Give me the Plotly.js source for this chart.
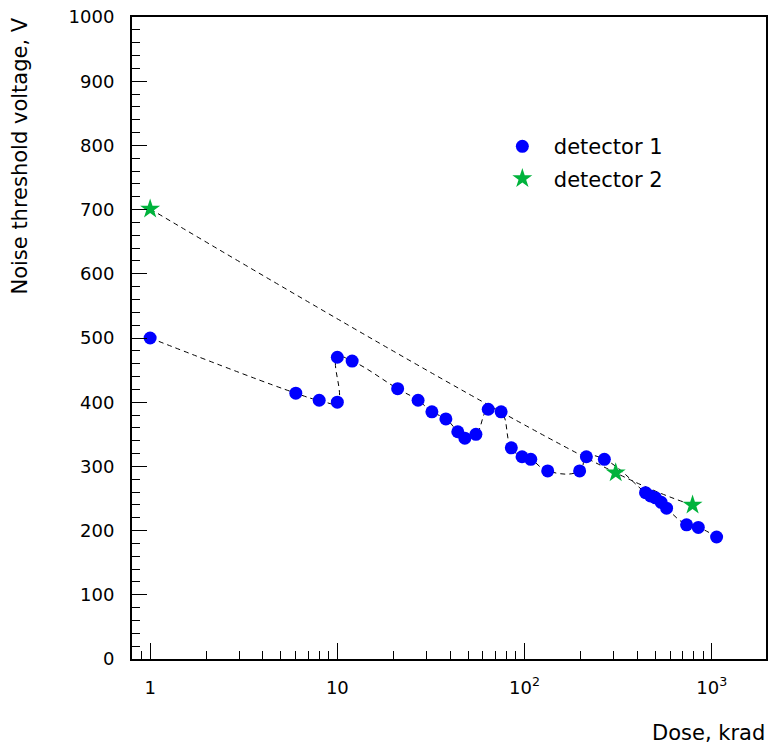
<!DOCTYPE html>
<html>
<head>
<meta charset="utf-8">
<script src="https://cdn.plot.ly/plotly-3.0.1.min.js"></script>
<style>html,body{margin:0;padding:0;background:#fff;}#chart{width:768px;height:744px;}</style>
</head>
<body>
<div id="chart"></div>
<script>
// Detector 1 data (dose in krad, noise threshold voltage in V)
var det1Dose = [1, 6, 8, 10, 10, 12, 21, 27, 32, 38, 44, 48, 55, 64, 75, 85, 97, 108, 133, 197, 214, 267, 443, 471, 501, 537, 574, 734, 848, 1062];
var det1Volt = [500, 414, 403, 400, 470, 464, 421, 403, 385, 374, 354, 344, 350, 389, 385, 329, 315, 311, 293, 293, 315, 311, 259, 254, 251, 244, 235, 209, 205, 190];
// Detector 2 data
var det2Dose = [1, 307, 790];
var det2Volt = [701, 290, 240];

var xTickVals = [1, 10, 100, 1000];
var xTickText = ['1', '10', '10<sup>2</sup>', '10<sup>3</sup>'];
var xMinorVals = [0.9];
[1, 10, 100, 1000].forEach(function (d) { for (var k = 2; k <= 9; k++) { if (k * d < 1950) xMinorVals.push(k * d); } });

var FONT = 'DejaVu Sans, Arial, sans-serif';
var dashStyle = {color: '#000', width: 1, dash: '5px,4px', shape: 'spline', smoothing: 1.3};

var traces = [
  {x: det1Dose, y: det1Volt, mode: 'lines', line: dashStyle, showlegend: false, hoverinfo: 'skip'},
  {x: det2Dose, y: det2Volt, mode: 'lines', line: dashStyle, showlegend: false, hoverinfo: 'skip'},
  {x: det1Dose, y: det1Volt, mode: 'markers', name: 'detector 1', legendgroup: 'a',
   marker: {symbol: 'circle', size: 13, color: '#0000ff'}},
  {x: det2Dose, y: det2Volt, mode: 'markers', name: 'detector 2', legendgroup: 'b',
   marker: {symbol: 'star', size: 15, color: '#00b33c'}}
];

var layout = {
  width: 768, height: 744,
  margin: {l: 132, r: 2, t: 17, b: 85},
  paper_bgcolor: '#fff', plot_bgcolor: '#fff',
  font: {family: FONT, size: 18, color: '#000'},
  showlegend: true,
  legend: {x: 0.566, y: 0.83, xanchor: 'left', yanchor: 'top', bgcolor: 'rgba(0,0,0,0)',
           itemwidth: 53,
           font: {family: FONT, size: 21, color: '#000'}, traceorder: 'grouped', tracegroupgap: 2},
  xaxis: {
    type: 'log', range: [Math.log10(0.8), Math.log10(1950)],
    showgrid: false, zeroline: false,
    showline: true, linecolor: '#000', linewidth: 2, mirror: true,
    ticks: 'inside', ticklen: 16, tickwidth: 1, tickcolor: '#000',
    tickmode: 'array', tickvals: xTickVals, ticktext: xTickText,
    tickfont: {family: FONT, size: 18},
    ticklabelstandoff: 11,
    minor: {tickmode: 'array', tickvals: xMinorVals, ticks: 'inside', ticklen: 8, tickwidth: 1, tickcolor: '#000', showgrid: false}
  },
  yaxis: {
    range: [0, 1000],
    showgrid: false, zeroline: false,
    showline: true, linecolor: '#000', linewidth: 2, mirror: true,
    ticks: 'inside', ticklen: 15, tickwidth: 1, tickcolor: '#000',
    dtick: 100, tick0: 0,
    tickfont: {family: FONT, size: 18},
    ticklabelstandoff: 12,
    minor: {dtick: 20, tick0: 0, ticks: 'inside', ticklen: 8, tickwidth: 1, tickcolor: '#000', showgrid: false}
  },
  annotations: [
    {text: 'Noise threshold voltage, V', xref: 'paper', yref: 'paper', x: -0.1767, y: 1.003,
     xanchor: 'center', yanchor: 'top', textangle: -90, showarrow: false, font: {family: FONT, size: 21}},
    {text: 'Dose, krad', xref: 'paper', yref: 'paper', x: 1.002, y: -0.115,
     xanchor: 'right', yanchor: 'middle', showarrow: false, font: {family: FONT, size: 21}}
  ]
};

Plotly.newPlot('chart', traces, layout, {displayModeBar: false, staticPlot: true});
</script>
</body>
</html>
